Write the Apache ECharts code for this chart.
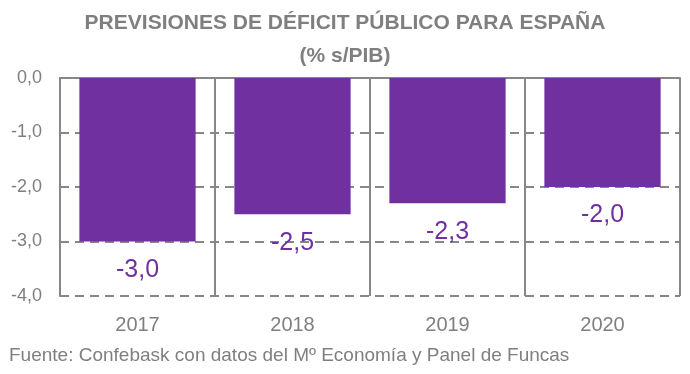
<!DOCTYPE html>
<html>
<head>
<meta charset="utf-8">
<script src="https://cdn.jsdelivr.net/npm/echarts@6/dist/echarts.min.js"></script>
<style>html,body{margin:0;padding:0;background:#fff}#c{width:690px;height:374px}</style>
</head>
<body>
<div id="c"></div>
<script>
const titleText = 'PREVISIONES DE DÉFICIT PÚBLICO PARA ESPAÑA\n(% s/PIB)';
const sourceText = 'Fuente: Confebask con datos del Mº Economía y Panel de Funcas';
const categories = ['2017', '2018', '2019', '2020'];
const deficit = [-3.0, -2.5, -2.3, -2.0];
const yMin = -4, yMax = 0, yStep = 1;

const FONT = 'Liberation Sans';
const GRAY = '#7f7f7f';
const LINE = '#878787';
const PURPLE = '#7030A0';
const fmt = v => v.toFixed(1).replace('.', ',');

const chart = echarts.init(document.getElementById('c'), null, {renderer: 'canvas'});
chart.setOption({
  animation: false,
  backgroundColor: '#fff',
  textStyle: {fontFamily: FONT},
  title: [{
    text: titleText,
    left: 'center',
    top: 2,
    textStyle: {fontFamily: FONT, fontSize: 21, fontWeight: 'bold', color: GRAY, lineHeight: 33}
  }, {
    text: sourceText,
    left: 4,
    top: 341,
    textStyle: {fontFamily: FONT, fontSize: 19, fontWeight: 'normal', color: GRAY}
  }],
  grid: {left: 60, right: 10, top: 78, bottom: 78, containLabel: false},
  xAxis: [{
    type: 'category',
    data: categories,
    position: 'bottom',
    axisLine: {show: false, onZero: false},
    axisTick: {show: false},
    axisLabel: {color: GRAY, fontSize: 20, fontFamily: FONT, margin: 19},
    splitLine: {show: true, interval: 0, lineStyle: {color: LINE, width: 2, type: 'solid'}}
  }, {
    type: 'category',
    data: categories,
    position: 'top',
    axisLine: {show: true, onZero: false, lineStyle: {color: LINE, width: 2}},
    axisTick: {show: false},
    axisLabel: {show: false},
    splitLine: {show: false}
  }],
  yAxis: {
    type: 'value',
    min: yMin, max: yMax, interval: yStep,
    axisLine: {show: true, lineStyle: {color: LINE, width: 2}},
    axisTick: {show: false},
    axisLabel: {color: GRAY, fontSize: 18, fontFamily: FONT, margin: 18, formatter: fmt},
    splitLine: {show: true, lineStyle: {color: LINE, width: 2, type: [9, 6]}}
  },
  series: [{
    type: 'bar',
    data: deficit,
    xAxisIndex: 0,
    barCategoryGap: '25%',
    itemStyle: {color: PURPLE},
    label: {
      show: true,
      position: 'outside',
      distance: 16,
      color: PURPLE,
      fontSize: 25,
      fontFamily: FONT,
      formatter: p => fmt(p.value)
    },
    z: 1
  }]
});
</script>
</body>
</html>
